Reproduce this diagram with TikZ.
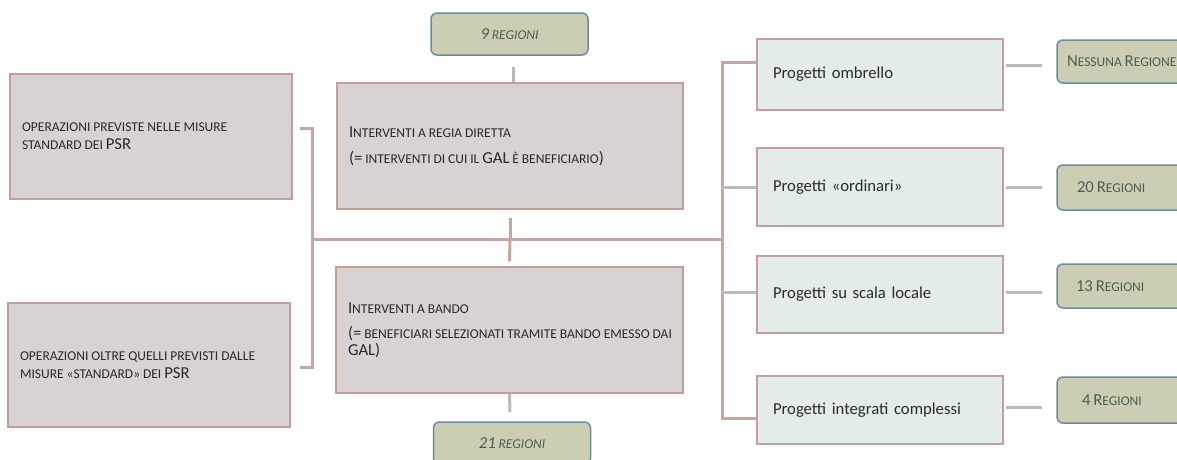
\documentclass[tikz,border=0pt]{standalone}
\usepackage{fontspec}
\setmainfont{Carlito}
\usetikzlibrary{calc}
\definecolor{boxfill}{HTML}{D7D3D2}
\definecolor{rose}{HTML}{C29F9A}
\definecolor{greenfill}{HTML}{E4ECE9}
\definecolor{regfill}{HTML}{CBCEB3}
\definecolor{regdraw}{HTML}{6D8AA1}
\definecolor{regtext}{HTML}{4B5F4E}
\definecolor{txt}{HTML}{2A2A2A}
\definecolor{pinkln}{HTML}{C7A6A1}
\definecolor{grayln}{HTML}{BDB9B9}
\newcommand\fsc[1]{{\fontsize{13.5}{16}\selectfont\spaceskip=2.9pt\relax #1}}
\newcommand\bodyfnt{\fontsize{16.7}{16.7}\selectfont\spaceskip=3.5pt\relax}
\begin{document}
\begin{tikzpicture}[x=1pt,y=-1pt,
  every node/.style={font=\bodyfnt, text=txt},
  graybox/.style={draw=rose,fill=boxfill,line width=1.5pt,inner xsep=12pt,align=left},
  greenbox/.style={draw=rose,fill=greenfill,line width=1.5pt,inner xsep=16pt,align=left,text width=214pt},
  regbox/.style={draw=regdraw,fill=regfill,line width=1.5pt,rounded corners=6pt,minimum width=157pt,minimum height=43pt,text=regtext},
  pinkline/.style={draw=pinkln,line width=3pt},
  grayline/.style={draw=grayln,line width=3pt}]
\useasboundingbox (0,0) rectangle (1177,459);

% left boxes
\node[graybox,text width=258pt,minimum height=125pt] (L1) at (151,136.5)
  {\fsc{OPERAZIONI PREVISTE NELLE MISURE}\\[1pt]\fsc{STANDARD DEI }PSR};
\node[graybox,text width=258pt,minimum height=124pt] (L2) at (149,365)
  {\fsc{OPERAZIONI OLTRE QUELLI PREVISTI DALLE}\\[1pt]\fsc{MISURE «STANDARD» DEI }PSR};

% middle boxes
\node[graybox,text width=322pt,minimum height=126pt] (M1) at (510,146)
  {I\fsc{NTERVENTI A REGIA DIRETTA}\\[9pt](=\fsc{ INTERVENTI DI CUI IL }GAL\fsc{ È BENEFICIARIO})};
\node[graybox,text width=323pt,minimum height=126pt] (M2) at (509.5,330)
  {I\fsc{NTERVENTI A BANDO}\\[9pt]\mbox{(=\fsc{ BENEFICIARI SELEZIONATI TRAMITE BANDO EMESSO DAI}}\\GAL)};

% top / bottom region boxes
\node[regbox,minimum height=42pt] (R9) at (509.5,34) {\itshape 9\fsc{ REGIONI}\hspace{12pt}};
\node[regbox,minimum height=42pt] (R21) at (512,443) {\itshape 21\fsc{ REGIONI}};

% right project boxes
\node[greenbox,minimum height=71pt] (P1) at (880,74.5) {Progetti ombrello};
\node[greenbox,minimum height=78pt] (P2) at (880,187) {Progetti «ordinari»};
\node[greenbox,minimum height=77pt] (P3) at (880,294.5) {Progetti su scala locale};
\node[greenbox,minimum height=68pt] (P4) at (880,410) {Progetti integrati complessi};

% right region boxes
\node[regbox,minimum height=43pt,align=left,text width=137pt,inner xsep=10pt,inner ysep=0pt] (Q1) at (1135.5,61.5) {N\fsc{ESSUNA }R\fsc{EGIONE}\\[4pt]};
\node[regbox,minimum height=45pt,align=left,text width=117pt,inner xsep=20pt] (Q2) at (1135.5,187.5) {20\fsc{ }R\fsc{EGIONI}};
\node[regbox,minimum height=44pt,align=left,text width=119pt,inner xsep=19pt] (Q3) at (1135.5,286) {13\fsc{ }R\fsc{EGIONI}};
\node[regbox,minimum height=46pt,align=left,text width=107pt,inner xsep=25pt] (Q4) at (1135.5,400) {4\fsc{ }R\fsc{EGIONI}};

% connectors
\coordinate (bt) at (300,128);
\coordinate (bb) at (300,367);
\coordinate (sl) at (312,239);
\coordinate (sr) at (722,239);
\coordinate (rt) at (757,62);
\coordinate (rb) at (757,418);

\draw[pinkline] (bt) -| (sl) |- (bb);
\draw[pinkline] (sl) -- (sr);
\draw[pinkline] (rt) -| (sr) |- (rb);
\draw[pinkline] ($(M1.south)+(0,8)$) -- (M1.south |- sl);
\draw[pinkline] (M1.south |- sl) -- ($(M2.north)+(0,-5)$);
\draw[grayline] ($(R9.south)+(3.5,11)$) -- ($(M1.north)+(3,0)$);
\draw[grayline] (M2.south) -- ($(R21.north)+(-2,-9)$);
\draw[grayline] (P2.west) -- (P2.west -| sr);
\draw[grayline] ($(P3.west)+(0,-2.5)$) -- ($(P3.west -| sr)+(0,-2.5)$);

\draw[grayline] ($(P1.east)+(2,-9.5)$) -- ($(Q1.west)+(-14,3.5)$);
\draw[grayline] ($(P2.east)+(2,0)$) -- ($(Q2.west)+(-14,-0.5)$);
\draw[grayline] ($(P3.east)+(2,-2.5)$) -- ($(Q3.west)+(-14,6)$);
\draw[grayline] ($(P4.east)+(2,-3)$) -- ($(Q4.west)+(-14,7)$);
\end{tikzpicture}
\end{document}
